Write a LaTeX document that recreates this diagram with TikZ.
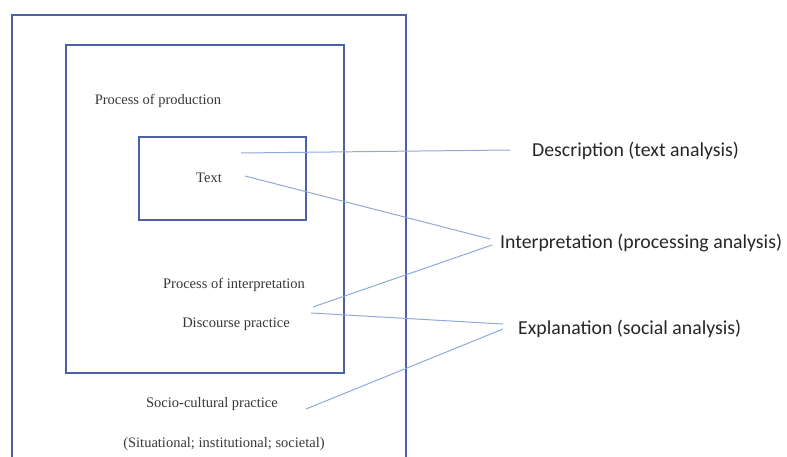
\documentclass[tikz,border=0pt]{standalone}
\usepackage{fontspec}
\setmainfont{Liberation Serif}
\newfontfamily\rightfont{Carlito}
\definecolor{boxblue}{HTML}{4A62A4}
\definecolor{linkblue}{HTML}{8EAADC}
\begin{document}
\begin{tikzpicture}[x=1pt,y=-1pt,
  boxline/.style={draw=boxblue,line width=1.8pt},
  link/.style={draw=linkblue,line width=1pt},
  lefttext/.style={font=\fontsize{14.5}{16}\selectfont,text=black!78,inner sep=0pt},
  righttext/.style={font=\rightfont\fontsize{19.8}{22}\selectfont,text=black!85,inner sep=0pt}]
\useasboundingbox (0,0) rectangle (787,457);
\begin{scope}
\clip (0,0) rectangle (787,457);
\draw[boxline] (12,15) rectangle (406,470);
\end{scope}
\draw[boxline] (66,45) rectangle (344,373);
\draw[boxline] (139,137) rectangle (306,220);
% left texts
\node[lefttext] (prod) at (158,101) {Process of production};
\node[lefttext] (text) at (209,178) {Text};
\node[lefttext] (interp) at (234,285) {Process of interpretation};
\node[lefttext] (disc) at (236,324) {Discourse practice};
\node[lefttext] (socio) at (212,404) {Socio-cultural practice};
\node[lefttext] (situ) at (224,444) {(Situational; institutional; societal)};
% right texts
\node[righttext,anchor=west] (desc) at (532,151) {Description (text analysis)};
\node[righttext,anchor=west] (interpr) at (500,243) {Interpretation (processing analysis)};
\node[righttext,anchor=west] (expl) at (518,329) {Explanation (social analysis)};
% connector endpoints
\coordinate (a1) at (241,153);
\coordinate (a2) at (510,150);
\coordinate (b1) at (245,176);
\coordinate (b2) at (490,239);
\coordinate (c1) at (313,307);
\coordinate (c2) at (492,245);
\coordinate (d1) at (311,313);
\coordinate (d2) at (503,324);
\coordinate (e1) at (306,409);
\coordinate (e2) at (503,329);
\draw[link] (a1) -- (a2);
\draw[link] (b1) -- (b2);
\draw[link] (c1) -- (c2);
\draw[link] (d1) -- (d2);
\draw[link] (e1) -- (e2);
\end{tikzpicture}
\end{document}
